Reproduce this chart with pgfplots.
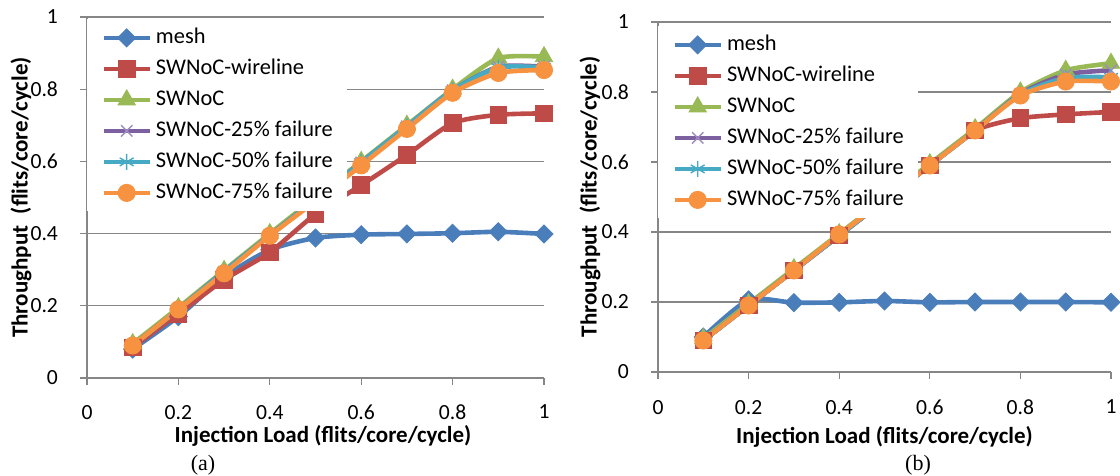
\documentclass[border=0pt]{standalone}
\usepackage{fontspec}
\setmainfont{Carlito}
\newfontfamily\capfont{Liberation Serif}
\usepackage{pgfplots}
\pgfplotsset{compat=1.18}
\usetikzlibrary{plotmarks}

\definecolor{axgray}{HTML}{868686}
\definecolor{cmesh}{HTML}{4A7EBB}
\definecolor{cwire}{HTML}{BE4B48}
\definecolor{cswnoc}{HTML}{98B954}
\definecolor{cpurple}{HTML}{7D60A0}
\definecolor{cpurplem}{HTML}{9E8BC0}
\definecolor{ccyan}{HTML}{46AAC5}
\definecolor{corange}{HTML}{F69240}

\pgfplotsset{
  panel/.style={
    scale only axis, clip=false,
    xmin=0, xmax=1, ymin=0, ymax=1,
    xtick={0,0.2,0.4,0.6,0.8,1}, ytick={0,0.2,0.4,0.6,0.8,1},
    axis x line=bottom, axis y line=left,
    axis line style={draw=axgray, line width=0.6pt, -},
    ymajorgrids, grid style={draw=axgray, line width=0.6pt},
    tick style={draw=axgray, line width=0.6pt},
    tick align=outside, major tick length=3.5pt,
    /pgf/number format/assume math mode=true,
    ticklabel style={font=\fontsize{10.8}{12}\selectfont},
    yticklabel style={xshift=-7.5pt},
    label style={font=\bfseries\fontsize{11.5}{13}\selectfont},
    legend cell align=left,
    legend style={at={(0,1)}, anchor=north west,
      draw=none, fill=white, inner xsep=7pt, inner ysep=4pt,
      row sep=5pt, column sep=2pt,
      font=\fontsize{11.2}{13}\selectfont,
      nodes={inner sep=0pt, text height=8pt, text depth=2.5pt}},
    legend image code/.code={\draw[mark repeat=2,mark phase=2]
      plot coordinates {(0pt,0pt)(11.5pt,0pt)(23pt,0pt)};},
    every axis plot/.append style={line width=2.3pt, smooth, tension=0.4},
  },
  smesh/.style={color=cmesh, mark=square*, mark size=3.2pt,
    mark options={solid, rotate=45, fill=cmesh, draw=cmesh, line width=0.4pt}},
  swire/.style={color=cwire, mark=square*, mark size=4.2pt,
    mark options={solid, fill=cwire, draw=cwire, line width=0.4pt}},
  sswnoc/.style={color=cswnoc, mark=triangle*, mark size=5pt,
    mark options={solid, fill=cswnoc, draw=cswnoc, line width=0.4pt}},
  s25/.style={color=cpurple, mark=x, mark size=4pt,
    mark options={solid, draw=cpurplem, line width=0.7pt}},
  s50/.style={color=ccyan, mark=asterisk, mark size=4pt,
    mark options={solid, draw=ccyan, line width=0.7pt}},
  s75/.style={color=corange, mark=*, mark size=4.3pt,
    mark options={solid, fill=corange, draw=corange, line width=0.4pt}},
}

\begin{document}
\begin{tikzpicture}
\useasboundingbox (0,0) rectangle (560pt,238pt);

% (a)
\begin{axis}[panel, at={(43.5pt,49pt)}, anchor=south west,
  width=228.5pt, height=180.5pt,
  xticklabel style={yshift=-6.5pt},
  legend style={yshift=-1pt},
  xlabel={Injection Load (flits/core/cycle)},
  ylabel={Throughput\enspace(flits/core/cycle)},
  xlabel style={at={(rel axis cs:0.5,0)}, anchor=center, yshift=-29pt, xshift=3.75pt},
  ylabel style={at={(rel axis cs:0,0.5)}, anchor=center, yshift=33pt}]
\addplot[smesh] coordinates {(0.1,0.08)(0.2,0.17)(0.3,0.28)(0.4,0.355)(0.5,0.388)(0.6,0.397)(0.7,0.399)(0.8,0.401)(0.9,0.405)(1,0.399)};
\addlegendentry{mesh}
\addplot[swire] coordinates {(0.1,0.085)(0.2,0.178)(0.3,0.272)(0.4,0.348)(0.5,0.454)(0.6,0.534)(0.7,0.618)(0.8,0.706)(0.9,0.729)(1,0.733)};
\addlegendentry{SWNoC-wireline}
\addplot[sswnoc] coordinates {(0.1,0.095)(0.2,0.195)(0.3,0.298)(0.4,0.4)(0.5,0.5)(0.6,0.6)(0.7,0.7)(0.8,0.8)(0.9,0.886)(1,0.89)};
\addlegendentry{SWNoC}
\addplot[s25] coordinates {(0.1,0.09)(0.2,0.19)(0.3,0.295)(0.4,0.395)(0.5,0.495)(0.6,0.597)(0.7,0.697)(0.8,0.797)(0.9,0.862)(1,0.862)};
\addlegendentry{SWNoC-25\% failure}
\addplot[s50] coordinates {(0.1,0.09)(0.2,0.19)(0.3,0.295)(0.4,0.395)(0.5,0.495)(0.6,0.597)(0.7,0.697)(0.8,0.797)(0.9,0.86)(1,0.86)};
\addlegendentry{SWNoC-50\% failure}
\addplot[s75] coordinates {(0.1,0.09)(0.2,0.19)(0.3,0.29)(0.4,0.394)(0.5,0.49)(0.6,0.589)(0.7,0.69)(0.8,0.79)(0.9,0.845)(1,0.853)};
\addlegendentry{SWNoC-75\% failure}
\node[font=\capfont\fontsize{11}{13}\selectfont] at (rel axis cs:0.254,0) [yshift=-43.5pt] {(a)};
\end{axis}

% (b)
\begin{axis}[panel, at={(329pt,52pt)}, anchor=south west,
  width=226.5pt, height=175pt,
  xticklabel style={yshift=-7pt},
  legend style={yshift=-2pt},
  xlabel={Injection Load (flits/core/cycle)},
  ylabel={Throughput\enspace(flits/core/cycle)},
  xlabel style={at={(rel axis cs:0.5,0)}, anchor=center, yshift=-32.5pt},
  ylabel style={at={(rel axis cs:0,0.5)}, anchor=center, yshift=34pt}]
\addplot[smesh] coordinates {(0.1,0.1)(0.2,0.206)(0.3,0.198)(0.4,0.199)(0.5,0.203)(0.6,0.199)(0.7,0.2)(0.8,0.2)(0.9,0.2)(1,0.199)};
\addlegendentry{mesh}
\addplot[swire] coordinates {(0.1,0.09)(0.2,0.19)(0.3,0.29)(0.4,0.39)(0.5,0.49)(0.6,0.59)(0.7,0.69)(0.8,0.725)(0.9,0.736)(1,0.743)};
\addlegendentry{SWNoC-wireline}
\addplot[sswnoc] coordinates {(0.1,0.095)(0.2,0.195)(0.3,0.295)(0.4,0.395)(0.5,0.495)(0.6,0.595)(0.7,0.695)(0.8,0.8)(0.9,0.862)(1,0.882)};
\addlegendentry{SWNoC}
\addplot[s25] coordinates {(0.1,0.09)(0.2,0.19)(0.3,0.29)(0.4,0.39)(0.5,0.49)(0.6,0.59)(0.7,0.69)(0.8,0.795)(0.9,0.85)(1,0.862)};
\addlegendentry{SWNoC-25\% failure}
\addplot[s50] coordinates {(0.1,0.09)(0.2,0.19)(0.3,0.29)(0.4,0.39)(0.5,0.49)(0.6,0.59)(0.7,0.69)(0.8,0.793)(0.9,0.84)(1,0.842)};
\addlegendentry{SWNoC-50\% failure}
\addplot[s75] coordinates {(0.1,0.09)(0.2,0.19)(0.3,0.29)(0.4,0.393)(0.5,0.49)(0.6,0.59)(0.7,0.69)(0.8,0.79)(0.9,0.83)(1,0.83)};
\addlegendentry{SWNoC-75\% failure}
\node[font=\capfont\fontsize{11}{13}\selectfont] at (rel axis cs:0.574,0) [yshift=-46.5pt] {(b)};
\end{axis}
\end{tikzpicture}
\end{document}
